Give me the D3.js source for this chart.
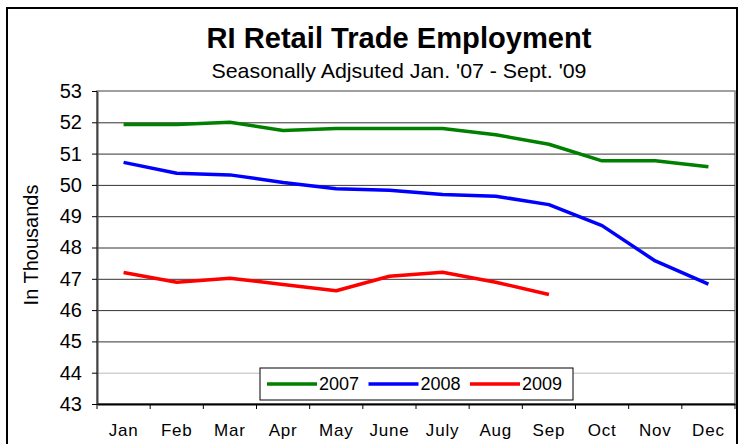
<!DOCTYPE html>
<html>
<head>
<meta charset="utf-8">
<script src="https://cdn.jsdelivr.net/npm/d3@7"></script>
<style>
  body { margin: 0; background: #fff; }
  text { font-family: "Liberation Sans", Arial, sans-serif; }
</style>
</head>
<body>
<svg id="graph" width="740" height="444"></svg>
<script>
const months = ["Jan", "Feb", "Mar", "Apr", "May", "June", "July", "Aug", "Sep", "Oct", "Nov", "Dec"];
const years = ["2007", "2008", "2009"];
const colors = ["#008000", "#0000ff", "#ff0000"];
const v2007 = [51.93, 51.93, 52.0, 51.74, 51.8, 51.8, 51.8, 51.6, 51.3, 50.77, 50.77, 50.58];
const v2008 = [50.72, 50.37, 50.32, 50.08, 49.88, 49.83, 49.69, 49.64, 49.37, 48.7, 47.57, 46.83];
const v2009 = [47.2, 46.89, 47.02, 46.82, 46.62, 47.08, 47.21, 46.89, 46.5];
const yTicks = [43, 44, 45, 46, 47, 48, 49, 50, 51, 52, 53];

const series = [v2007, v2008, v2009];
const margin = { top: 91, right: 5, bottom: 40, left: 97 };
const width = 740, height = 444;

const svg = d3.select("#graph");

// outer frame
svg.append("rect")
  .attr("x", 7).attr("y", 8).attr("width", 730).attr("height", 450)
  .attr("fill", "none").attr("stroke", "#000").attr("stroke-width", 2);

const x = d3.scaleBand()
  .domain(months)
  .range([margin.left, width - margin.right]);

const y = d3.scaleLinear()
  .domain([43, 53])
  .range([height - margin.bottom, margin.top]);

// plot frame + grid
svg.append("rect")
  .attr("x", margin.left).attr("y", margin.top)
  .attr("width", width - margin.right - margin.left)
  .attr("height", y(43) - margin.top)
  .attr("fill", "#fff").attr("stroke", "#808080").attr("stroke-width", 1.5);

svg.append("g")
  .selectAll("line")
  .data(yTicks.slice(1, -1))
  .join("line")
  .attr("x1", margin.left).attr("x2", width - margin.right)
  .attr("y1", (d) => y(d) + 0.5).attr("y2", (d) => y(d) + 0.5)
  .attr("stroke", (d) => d === 44 ? "#bbb" : "#333").attr("stroke-width", 1);

// axes
svg.append("g")
  .attr("transform", `translate(${margin.left},0)`)
  .call(d3.axisLeft(y).tickValues(yTicks).tickSize(5).tickPadding(10).tickSizeOuter(0))
  .call((g) => g.select(".domain").attr("stroke", "#444").attr("stroke-width", 2))
  .call((g) => g.selectAll("text").attr("font-size", 20).attr("fill", "#000"));

svg.append("g")
  .attr("transform", `translate(0,${y(43)})`)
  .call(d3.axisBottom(x).tickSize(0).tickPadding(20))
  .call((g) => g.select(".domain").attr("stroke-width", 2))
  .call((g) => g.selectAll("text").attr("font-size", 17).attr("letter-spacing", 0.8).attr("fill", "#000"));

svg.append("g")
  .selectAll("line")
  .data(months.concat(["end"]))
  .join("line")
  .attr("x1", (d, i) => margin.left + i * x.bandwidth())
  .attr("x2", (d, i) => margin.left + i * x.bandwidth())
  .attr("y1", y(43)).attr("y2", y(43) + 5)
  .attr("stroke", "#000");

// lines
const line = d3.line()
  .x((d, i) => x(months[i]) + x.bandwidth() / 2)
  .y((d) => y(d));

svg.append("g")
  .selectAll("path")
  .data(series)
  .join("path")
  .attr("fill", "none")
  .attr("stroke", (d, i) => colors[i])
  .attr("stroke-width", 3.5)
  .attr("stroke-linejoin", "round")
  .attr("d", line);

// titles
svg.append("text")
  .attr("x", 399).attr("y", 48)
  .attr("text-anchor", "middle")
  .attr("font-size", 29).attr("font-weight", "bold")
  .attr("textLength", 385).attr("lengthAdjust", "spacingAndGlyphs")
  .text("RI Retail Trade Employment");

svg.append("text")
  .attr("x", 399).attr("y", 78)
  .attr("text-anchor", "middle")
  .attr("font-size", 21)
  .attr("textLength", 375).attr("lengthAdjust", "spacingAndGlyphs")
  .text("Seasonally Adjsuted Jan. '07 - Sept. '09");

svg.append("text")
  .attr("transform", `translate(38,245) rotate(-90)`)
  .attr("text-anchor", "middle")
  .attr("font-size", 20)
  .text("In Thousands");

// legend
const legend = svg.append("g");
legend.append("rect")
  .attr("x", 260).attr("y", 368).attr("width", 313).attr("height", 32)
  .attr("fill", "#fff").attr("stroke", "#000").attr("stroke-width", 1);

const item = legend.selectAll("g")
  .data(years)
  .join("g")
  .attr("transform", (d, i) => `translate(${267 + i * 101.5},384)`);
item.append("line")
  .attr("x1", 0).attr("x2", 50)
  .attr("stroke", (d, i) => colors[i]).attr("stroke-width", 3.5);
item.append("text")
  .attr("x", 52).attr("dy", "0.36em")
  .attr("font-size", 18)
  .text((d) => d);
</script>
</body>
</html>
